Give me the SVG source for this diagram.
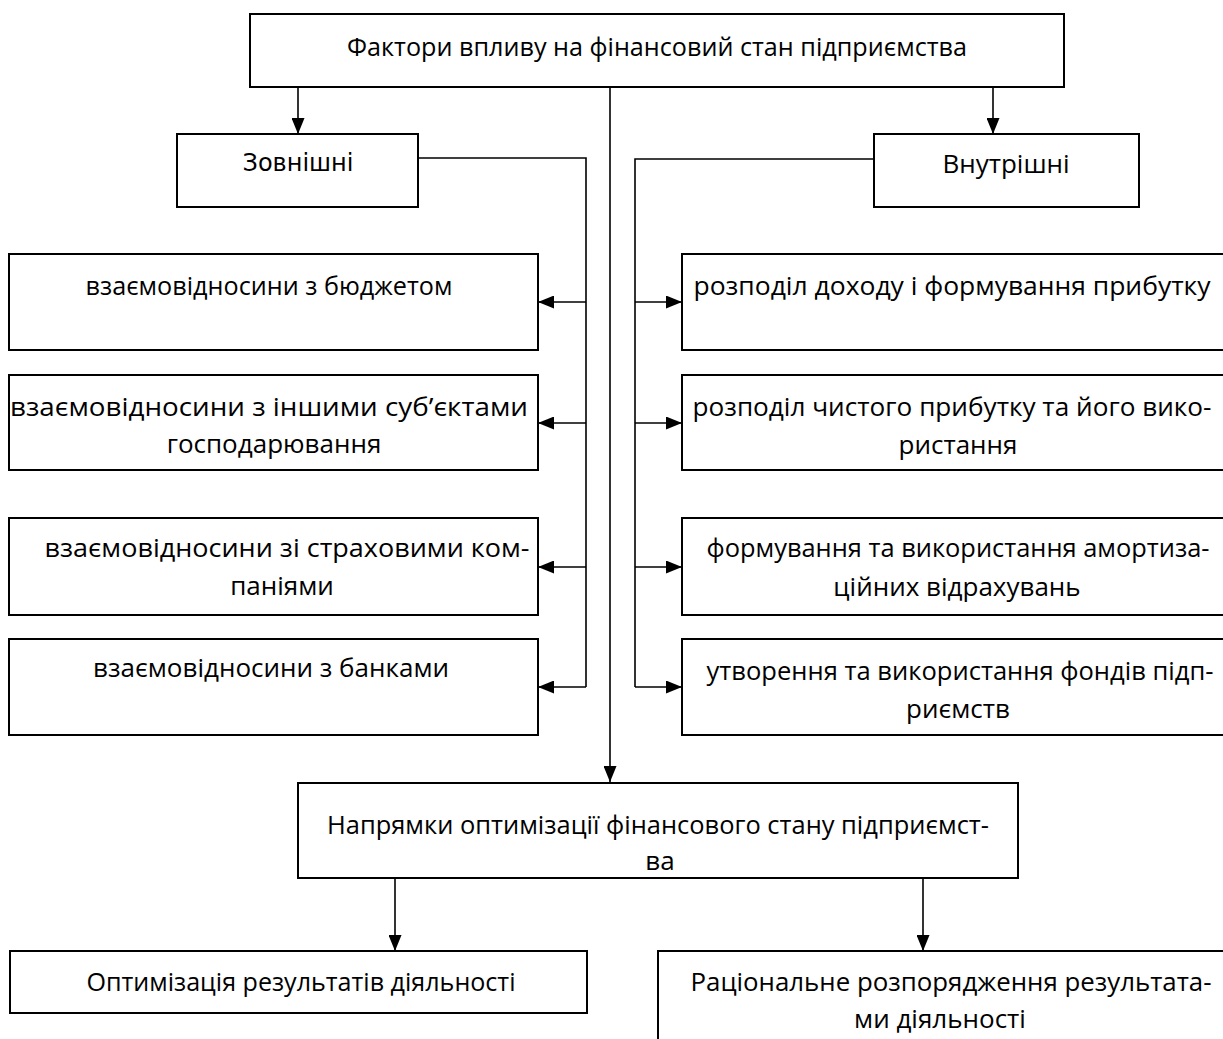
<svg xmlns="http://www.w3.org/2000/svg" width="1223" height="1039" viewBox="0 0 1223 1039">
<style>
.box{fill:#fff;stroke:#000;stroke-width:2}
.ln{fill:none;stroke:#000;stroke-width:1.6}
.t{font-family:"Open Sans","Noto Sans",sans-serif;font-size:26px;fill:#000;text-anchor:middle}
.d{font-family:"DejaVu Sans",sans-serif;font-size:24px;fill:#000;text-anchor:middle}
</style>
<defs>
<marker id="ah" viewBox="0 0 16 13" refX="16" refY="6.5" markerWidth="16" markerHeight="13" markerUnits="userSpaceOnUse" orient="auto"><path d="M0,0 L16,6.5 L0,13 z" fill="#000"/></marker>
</defs>
<g id="connectors">
<path class="ln" d="M298,87 V134" marker-end="url(#ah)"/>
<path class="ln" d="M993,87 V134" marker-end="url(#ah)"/>
<path class="ln" d="M610,87 V782" marker-end="url(#ah)"/>
<path class="ln" d="M418,158 H586 V687"/>
<path class="ln" d="M586,302 H538" marker-end="url(#ah)"/>
<path class="ln" d="M586,423 H538" marker-end="url(#ah)"/>
<path class="ln" d="M586,567 H538" marker-end="url(#ah)"/>
<path class="ln" d="M586,687 H538" marker-end="url(#ah)"/>
<path class="ln" d="M874,159 H635 V687"/>
<path class="ln" d="M635,302 H682" marker-end="url(#ah)"/>
<path class="ln" d="M635,423 H682" marker-end="url(#ah)"/>
<path class="ln" d="M635,567 H682" marker-end="url(#ah)"/>
<path class="ln" d="M635,687 H682" marker-end="url(#ah)"/>
<path class="ln" d="M395,878 V951" marker-end="url(#ah)"/>
<path class="ln" d="M923,878 V951" marker-end="url(#ah)"/>
</g>
<g id="n-top"><rect class="box" x="250" y="14" width="814" height="73"/><text class="t" x="657" y="56" textLength="620" lengthAdjust="spacingAndGlyphs">Фактори впливу на фінансовий стан підприємства</text></g>
<g id="n-ext"><rect class="box" x="177" y="134" width="241" height="73"/><text class="d" x="298" y="171">Зовнішні</text></g>
<g id="n-int"><rect class="box" x="874" y="134" width="265" height="73"/><text class="t" x="1006" y="173">Внутрішні</text></g>
<g id="n-l1"><rect class="box" x="9" y="254" width="529" height="96"/><text class="t" x="269" y="295" textLength="367" lengthAdjust="spacingAndGlyphs">взаємовідносини з бюджетом</text></g>
<g id="n-l2"><rect class="box" x="9" y="375" width="529" height="95"/><text class="t" x="269" y="416" textLength="518" lengthAdjust="spacingAndGlyphs">взаємовідносини з іншими суб’єктами</text><text class="t" x="274" y="453">господарювання</text></g>
<g id="n-l3"><rect class="box" x="9" y="518" width="529" height="97"/><text class="t" x="287" y="557" textLength="485" lengthAdjust="spacingAndGlyphs">взаємовідносини зі страховими ком-</text><text class="t" x="282" y="595">паніями</text></g>
<g id="n-l4"><rect class="box" x="9" y="639" width="529" height="96"/><text class="t" x="271" y="677" textLength="356" lengthAdjust="spacingAndGlyphs">взаємовідносини з банками</text></g>
<g id="n-r1"><rect class="box" x="682" y="254" width="560" height="96"/><text class="t" x="952" y="295" textLength="517" lengthAdjust="spacingAndGlyphs">розподіл доходу і формування прибутку</text></g>
<g id="n-r2"><rect class="box" x="682" y="375" width="560" height="95"/><text class="t" x="952" y="416" textLength="519" lengthAdjust="spacingAndGlyphs">розподіл чистого прибутку та його вико-</text><text class="t" x="958" y="454">ристання</text></g>
<g id="n-r3"><rect class="box" x="682" y="518" width="560" height="97"/><text class="t" x="958" y="557" textLength="503" lengthAdjust="spacingAndGlyphs">формування та використання амортиза-</text><text class="t" x="957" y="596">ційних відрахувань</text></g>
<g id="n-r4"><rect class="box" x="682" y="639" width="560" height="96"/><text class="t" x="960" y="680" textLength="507" lengthAdjust="spacingAndGlyphs">утворення та використання фондів підп-</text><text class="t" x="958" y="718">риємств</text></g>
<g id="n-opt"><rect class="box" x="298" y="783" width="720" height="95"/><text class="t" x="658" y="834" textLength="662" lengthAdjust="spacingAndGlyphs">Напрямки оптимізації фінансового стану підприємст-</text><text class="t" x="660" y="870">ва</text></g>
<g id="n-b1"><rect class="box" x="10" y="951" width="577" height="62"/><text class="t" x="301" y="991" textLength="429" lengthAdjust="spacingAndGlyphs">Оптимізація результатів діяльності</text></g>
<g id="n-b2"><rect class="box" x="658" y="951" width="590" height="110"/><text class="t" x="951" y="991" textLength="521" lengthAdjust="spacingAndGlyphs">Раціональне розпорядження результата-</text><text class="t" x="940" y="1028">ми діяльності</text></g>
</svg>
